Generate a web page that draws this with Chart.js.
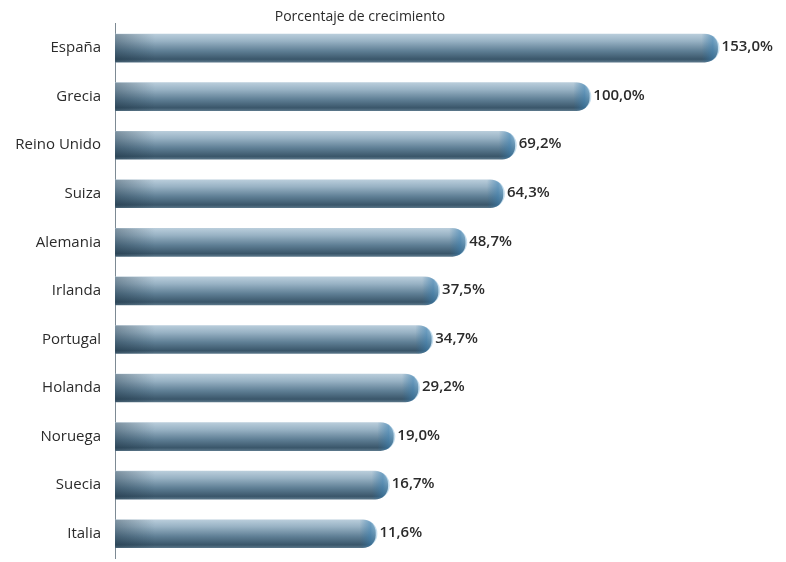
<!DOCTYPE html>
<html>
<head>
<meta charset="utf-8">
<script src="https://cdn.jsdelivr.net/npm/chart.js@4.4.0/dist/chart.umd.min.js"></script>
<style>
  html, body { margin: 0; padding: 0; background: #ffffff; }
  #wrap { width: 786px; height: 562px; }
</style>
</head>
<body>
<div id="wrap"><canvas id="grafico"></canvas></div>
<script>
// Datos del gráfico
const paises = ['España', 'Grecia', 'Reino Unido', 'Suiza', 'Alemania', 'Irlanda', 'Portugal', 'Holanda', 'Noruega', 'Suecia', 'Italia'];
const crecimiento = [153.0, 100.0, 69.2, 64.3, 48.7, 37.5, 34.7, 29.2, 19.0, 16.7, 11.6];
const titulo = 'Porcentaje de crecimiento';

// la base del eje no empieza en cero en el original
const baseEje = -96;
const maxEje = 154;

const fuente = "'Open Sans', 'Noto Sans', sans-serif";

function degradadoBarra(context) {
    const chart = context.chart;
    const escalaY = chart.scales.y;
    if (!chart.chartArea || !escalaY) return '#6d8ca0';
    const yc = escalaY.getPixelForValue(context.dataIndex);
    const g = chart.ctx.createLinearGradient(0, yc - 14, 0, yc + 14);
    g.addColorStop(0, '#b9cddb');
    g.addColorStop(0.25, '#98b2c4');
    g.addColorStop(0.6, '#5f7f95');
    g.addColorStop(0.9, '#3a566a');
    g.addColorStop(1, '#5a7689');
    return g;
}

// sombra a la izquierda y brillo azul en la punta de cada barra
const efectosBarras = {
    id: 'efectosBarras',
    afterDatasetsDraw(chart) {
        const ctx = chart.ctx;
        const meta = chart.getDatasetMeta(0);
        ctx.save();
        meta.data.forEach(bar => {
            const h = bar.height;
            const top = bar.y - h / 2;
            const izq = bar.base;
            const sombra = ctx.createLinearGradient(izq, 0, izq + 40, 0);
            sombra.addColorStop(0, 'rgba(20,40,55,0.35)');
            sombra.addColorStop(1, 'rgba(20,40,55,0)');
            ctx.fillStyle = sombra;
            ctx.fillRect(izq, top, 40, h);

            const fin = bar.x;
            const brillo = ctx.createLinearGradient(fin - 16, 0, fin, 0);
            brillo.addColorStop(0, 'rgba(40,110,160,0)');
            brillo.addColorStop(0.7, 'rgba(60,130,180,0.55)');
            brillo.addColorStop(1, 'rgba(90,160,205,0.35)');
            ctx.fillStyle = brillo;
            ctx.beginPath();
            ctx.moveTo(fin - 16, top);
            ctx.lineTo(fin - 12, top);
            ctx.arc(fin - 12, bar.y, h / 2, -Math.PI / 2, Math.PI / 2);
            ctx.lineTo(fin - 16, top + h);
            ctx.closePath();
            ctx.fill();
        });
        ctx.restore();
    }
};

const etiquetasValor = {
    id: 'etiquetasValor',
    afterDatasetsDraw(chart) {
        const ctx = chart.ctx;
        const meta = chart.getDatasetMeta(0);
        ctx.save();
        ctx.font = `600 15px ${fuente}`;
        ctx.fillStyle = '#2b2b2b';
        ctx.textAlign = 'left';
        ctx.textBaseline = 'middle';
        meta.data.forEach((bar, i) => {
            const txt = crecimiento[i].toFixed(1).replace('.', ',') + '%';
            ctx.fillText(txt, bar.x + 4, bar.y - 1);
        });
        ctx.restore();
    }
};

new Chart(document.getElementById('grafico'), {
    type: 'bar',
    data: {
        labels: paises,
        datasets: [{
            data: crecimiento,
            base: baseEje,
            backgroundColor: degradadoBarra,
            borderWidth: 0,
            borderRadius: 13,
            borderSkipped: 'start',
            barThickness: 28
        }]
    },
    options: {
        indexAxis: 'y',
        responsive: true,
        maintainAspectRatio: false,
        animation: false,
        layout: { padding: { left: 0, right: 66, top: 0, bottom: 4 } },
        plugins: {
            legend: { display: false },
            tooltip: { enabled: false },
            title: {
                display: true,
                text: titulo,
                color: '#2b2b2b',
                font: { family: fuente, size: 14, weight: 'normal' },
                padding: { top: 9, bottom: -2 }
            }
        },
        scales: {
            x: {
                display: false,
                min: baseEje,
                max: maxEje
            },
            y: {
                afterFit(scale) {
                    scale.width = 115;
                    scale.paddingTop = 0;
                    scale.paddingBottom = 0;
                },
                grid: { display: false, drawTicks: false },
                border: { display: true, color: '#7d8a94', width: 1 },
                ticks: {
                    color: '#2b2b2b',
                    padding: 14,
                    font: { family: fuente, size: 15 }
                }
            }
        }
    },
    plugins: [efectosBarras, etiquetasValor]
});
</script>
</body>
</html>
